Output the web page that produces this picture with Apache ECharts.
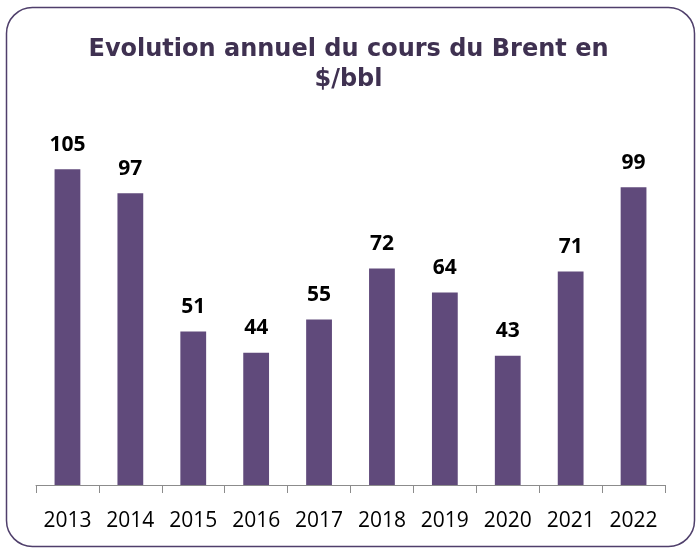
<!DOCTYPE html>
<html><head><meta charset="utf-8">
<script src="https://cdn.jsdelivr.net/npm/echarts@6/dist/echarts.min.js"></script>
<style>html,body{margin:0;padding:0;background:#fff}#c{width:697px;height:549px}</style>
</head><body><div id="c"></div>
<script>
const categories = ['2013','2014','2015','2016','2017','2018','2019','2020','2021','2022'];
const brentValues = [105, 97, 51, 44, 55, 72, 64, 43, 71, 99];
const titleText = 'Evolution annuel du cours du Brent en\n$/bbl';

const chart = echarts.init(document.getElementById('c'));
chart.setOption({
  animation: false,
  backgroundColor: '#fff',
  graphic: [{
    type: 'rect', left: 4, top: 5,
    shape: { width: 688, height: 539, r: 26 },
    style: { fill: 'none', stroke: '#4f3f6b', lineWidth: 1.5 }
  }],
  title: {
    text: titleText, left: 'center', top: 30,
    textStyle: { fontFamily: 'DejaVu Sans', fontWeight: 'bold', fontSize: 24, color: '#3f3151', lineHeight: 30 }
  },
  grid: { left: 36, right: 32, top: 124, bottom: 64, containLabel: false },
  xAxis: {
    type: 'category', data: categories,
    axisLine: { lineStyle: { color: '#8c8c8c', width: 1 } },
    axisTick: { show: true, length: 8, lineStyle: { color: '#8c8c8c' } },
    axisLabel: { interval: 0, color: '#000', fontFamily: 'Open Sans', fontSize: 21, margin: 26 }
  },
  yAxis: { type: 'value', min: 0, max: 120, show: false, splitLine: { show: false } },
  series: [{
    type: 'bar', data: brentValues, barCategoryGap: '59%',
    itemStyle: { color: '#604a7b' },
    label: { show: true, position: 'top', distance: 14, color: '#000', fontFamily: 'Open Sans', fontWeight: 'bold', fontSize: 21 }
  }]
});
</script></body></html>
